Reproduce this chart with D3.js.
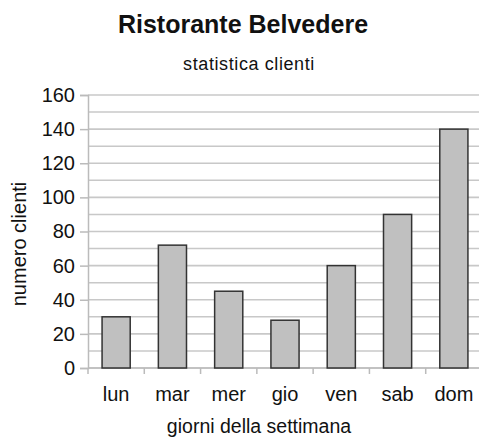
<!DOCTYPE html>
<html>
<head>
<meta charset="utf-8">
<script src="https://cdn.jsdelivr.net/npm/d3@7"></script>
<style>
  body { margin: 0; background: #fff; }
  text { font-family: "Liberation Sans", Arial, sans-serif; fill: #111; }
</style>
</head>
<body>
<div id="chart"></div>
<script>
const days = ["lun", "mar", "mer", "gio", "ven", "sab", "dom"];
const clients = [30, 72, 45, 28, 60, 90, 140];
const yTicks = [0, 20, 40, 60, 80, 100, 120, 140, 160];
const yGrid = d3.range(0, 161, 10);

const width = 479;
const height = 440;
const plot = { left: 88, right: 482, top: 95, bottom: 368 };

const svg = d3.select("#chart")
    .append("svg")
    .attr("width", width)
    .attr("height", height);

const x = d3.scaleBand()
    .domain(days)
    .range([plot.left, plot.right])
    .paddingInner(0.5)
    .paddingOuter(0.25);

const y = d3.scaleLinear()
    .domain([0, 160])
    .range([plot.bottom, plot.top]);

// gridlines
svg.append("g")
    .selectAll("line")
    .data(yGrid)
    .enter().append("line")
    .attr("x1", plot.left)
    .attr("x2", width)
    .attr("y1", d => y(d))
    .attr("y2", d => y(d))
    .attr("stroke", "#c8c8c8")
    .attr("stroke-width", 1.6);

// y axis
const yAxis = svg.append("g")
    .attr("transform", `translate(${plot.left},0)`)
    .call(d3.axisLeft(y).tickValues(yTicks).tickSize(8).tickPadding(5));
yAxis.select(".domain").attr("stroke", "#bbb").attr("stroke-width", 1.5);
yAxis.selectAll(".tick line").attr("stroke", "#bbb").attr("stroke-width", 1.5);
yAxis.selectAll(".tick text")
    .style("font-family", "'Liberation Sans', Arial, sans-serif")
    .style("font-size", "20px")
    .attr("fill", "#111");

// x axis ticks at category boundaries
const xAxis = svg.append("g")
    .attr("transform", `translate(0,${plot.bottom})`);
xAxis.append("line")
    .attr("x1", plot.left)
    .attr("x2", width)
    .attr("stroke", "#bbb")
    .attr("stroke-width", 1.5);
xAxis.selectAll("line.tk")
    .data(days)
    .enter().append("line")
    .attr("class", "tk")
    .attr("x1", d => x(d) - x.step() * x.paddingInner() / 2)
    .attr("x2", d => x(d) - x.step() * x.paddingInner() / 2)
    .attr("y1", 0)
    .attr("y2", 6)
    .attr("stroke", "#bbb")
    .attr("stroke-width", 1.5);
xAxis.selectAll("text")
    .data(days)
    .enter().append("text")
    .attr("x", d => x(d) + x.bandwidth() / 2)
    .attr("y", 33)
    .attr("text-anchor", "middle")
    .style("font-size", "20px")
    .text(d => d);

// bars
svg.append("g")
    .selectAll("rect")
    .data(clients)
    .enter().append("rect")
    .attr("x", (d, i) => x(days[i]))
    .attr("y", d => y(d))
    .attr("width", x.bandwidth())
    .attr("height", d => y(0) - y(d))
    .attr("fill", "#c0c0c0")
    .attr("stroke", "#333")
    .attr("stroke-width", 1.5);

// titles
svg.append("text")
    .attr("x", 243)
    .attr("y", 33)
    .attr("text-anchor", "middle")
    .style("font-size", "25px")
    .style("font-weight", "bold")
    .text("Ristorante Belvedere");

svg.append("text")
    .attr("x", 249)
    .attr("y", 70)
    .attr("text-anchor", "middle")
    .style("font-size", "18px")
    .style("letter-spacing", "0.6px")
    .attr("fill", "#222")
    .text("statistica clienti");

svg.append("text")
    .attr("x", 259)
    .attr("y", 433)
    .attr("text-anchor", "middle")
    .style("font-size", "19.5px")
    .text("giorni della settimana");

svg.append("text")
    .attr("transform", "translate(26,244) rotate(-90)")
    .attr("text-anchor", "middle")
    .style("font-size", "20px")
    .text("numero clienti");
</script>
</body>
</html>
